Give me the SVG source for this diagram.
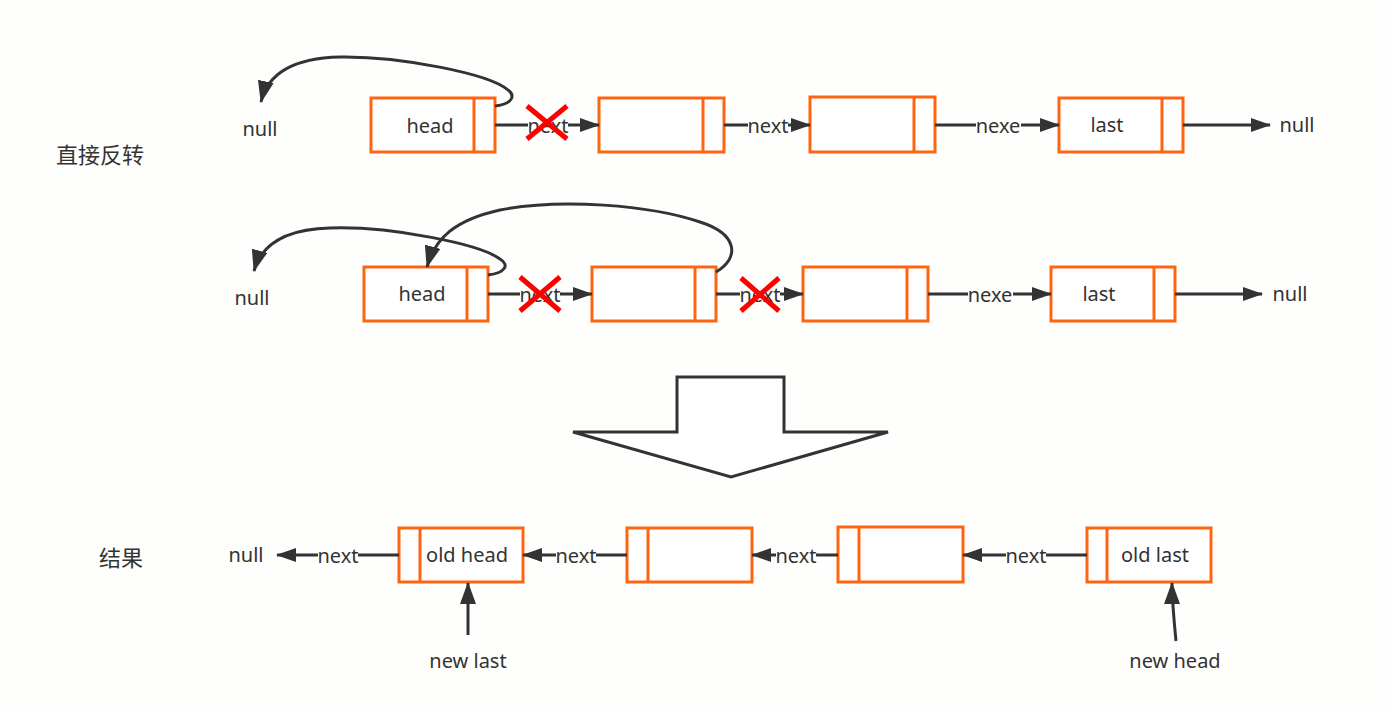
<svg xmlns="http://www.w3.org/2000/svg" width="1388" height="711" viewBox="0 0 1388 711">
<defs>
<style>
.bg{fill:#fefefc}
.box{fill:#ffffff;stroke:#ff6410;stroke-width:3}
.div{stroke:#ff6410;stroke-width:3;fill:none}
.ln{stroke:#333;stroke-width:3;fill:none}
.t{font-family:"Noto Sans","Liberation Sans",sans-serif;font-size:20px;fill:#333;dominant-baseline:central;text-anchor:middle}
.cn{font-family:"Noto Sans CJK SC","Noto Sans",sans-serif;font-size:22px;fill:#333;dominant-baseline:central;text-anchor:middle}
.lb{fill:#fefefc}
.x{stroke:#ff0000;stroke-width:5;fill:none}
</style>
<marker id="ah" viewBox="0 0 20 14" refX="19" refY="7" markerWidth="20" markerHeight="14" markerUnits="userSpaceOnUse" orient="auto">
<path d="M0,0 L20,7 L0,14 Z" fill="#333"/>
</marker>
<marker id="ahc" viewBox="0 0 22 16" refX="21" refY="8" markerWidth="22" markerHeight="16" markerUnits="userSpaceOnUse" orient="auto">
<path d="M0,0 L22,8 L0,16 Z" fill="#333"/>
</marker>
</defs>
<rect class="bg" x="0" y="0" width="1388" height="711"/>

<text class="cn" x="100" y="153">直接反转</text>
<text class="cn" x="121" y="556">结果</text>

<!-- Row 1 -->
<g id="r1-null-left"><text class="t" x="260" y="128">null</text></g>
<g id="r1-head"><rect class="box" x="371" y="98" width="124" height="54"/><line class="div" x1="474" y1="98" x2="474" y2="152"/><text class="t" x="430" y="125">head</text></g>
<g id="r1-n2"><rect class="box" x="599" y="98" width="125" height="54"/><line class="div" x1="703" y1="98" x2="703" y2="152"/></g>
<g id="r1-n3"><rect class="box" x="810" y="97" width="125" height="55"/><line class="div" x1="914" y1="97" x2="914" y2="152"/></g>
<g id="r1-last"><rect class="box" x="1059" y="98" width="124" height="54"/><line class="div" x1="1162" y1="98" x2="1162" y2="152"/><text class="t" x="1107" y="124">last</text></g>
<g id="r1-null-right"><text class="t" x="1297" y="124">null</text></g>

<!-- Row 2 -->
<g id="r2-null-left"><text class="t" x="252" y="297">null</text></g>
<g id="r2-head"><rect class="box" x="364" y="267" width="124" height="54"/><line class="div" x1="467" y1="267" x2="467" y2="321"/><text class="t" x="422" y="293">head</text></g>
<g id="r2-n2"><rect class="box" x="592" y="267" width="124" height="54"/><line class="div" x1="695" y1="267" x2="695" y2="321"/></g>
<g id="r2-n3"><rect class="box" x="803" y="267" width="125" height="54"/><line class="div" x1="907" y1="267" x2="907" y2="321"/></g>
<g id="r2-last"><rect class="box" x="1051" y="267" width="124" height="54"/><line class="div" x1="1154" y1="267" x2="1154" y2="321"/><text class="t" x="1099" y="293">last</text></g>
<g id="r2-null-right"><text class="t" x="1290" y="293">null</text></g>

<!-- Big arrow -->
<g id="big-arrow"><polygon points="677,377 784,377 784,432 888,432 731,477 573,432 677,432" fill="#ffffff" stroke="#333" stroke-width="3" stroke-linejoin="miter"/></g>

<!-- Row 3 -->
<g id="r3-null"><text class="t" x="246" y="554">null</text></g>
<g id="r3-oldhead"><rect class="box" x="399" y="528" width="124" height="54"/><line class="div" x1="420" y1="528" x2="420" y2="582"/><text class="t" x="467" y="554">old head</text></g>
<g id="r3-n2"><rect class="box" x="627" y="528" width="125" height="54"/><line class="div" x1="648" y1="528" x2="648" y2="582"/></g>
<g id="r3-n3"><rect class="box" x="838" y="527" width="125" height="55"/><line class="div" x1="859" y1="527" x2="859" y2="582"/></g>
<g id="r3-oldlast"><rect class="box" x="1087" y="528" width="124" height="54"/><line class="div" x1="1107" y1="528" x2="1107" y2="582"/><text class="t" x="1155" y="554">old last</text></g>
<g id="r3-newlast"><text class="t" x="468" y="660">new last</text></g>
<g id="r3-newhead"><text class="t" x="1175" y="660">new head</text></g>

<g id="connectors">
<!-- row 1 -->
<line class="ln" x1="495" y1="125" x2="599" y2="125" marker-end="url(#ah)"/>
<rect class="lb" x="528" y="113" width="40" height="24"/><text class="t" x="548" y="125">next</text>
<line class="ln" x1="724" y1="125" x2="810" y2="125" marker-end="url(#ah)"/>
<rect class="lb" x="748" y="113" width="40" height="24"/><text class="t" x="768" y="125">next</text>
<line class="ln" x1="935" y1="125" x2="1059" y2="125" marker-end="url(#ah)"/>
<rect class="lb" x="976" y="113" width="45" height="24"/><text class="t" x="998" y="125">nexe</text>
<line class="ln" x1="1183" y1="125" x2="1270" y2="125" marker-end="url(#ah)"/>
<path class="ln" d="M495,106 C512,104 516,96 508,90 C490,74 400,56 340,57 C295,58 268,72 261,102" marker-end="url(#ahc)"/>
<path class="x" d="M527,106 L567,139 M567,106 L527,139"/>

<!-- row 2 -->
<line class="ln" x1="488" y1="294" x2="592" y2="294" marker-end="url(#ah)"/>
<rect class="lb" x="520" y="282" width="40" height="24"/><text class="t" x="540" y="294">next</text>
<line class="ln" x1="716" y1="294" x2="803" y2="294" marker-end="url(#ah)"/>
<rect class="lb" x="740" y="282" width="40" height="24"/><text class="t" x="760" y="294">next</text>
<line class="ln" x1="928" y1="294" x2="1051" y2="294" marker-end="url(#ah)"/>
<rect class="lb" x="968" y="282" width="45" height="24"/><text class="t" x="990" y="294">nexe</text>
<line class="ln" x1="1175" y1="294" x2="1262" y2="294" marker-end="url(#ah)"/>
<path class="ln" d="M488,275 C505,273 510,265 500,259 C480,244 390,226 330,228 C290,229 262,242 254,271" marker-end="url(#ahc)"/>
<path class="ln" d="M716,272 C740,258 738,234 700,222 C650,205 560,198 500,210 C455,220 435,238 427,267" marker-end="url(#ahc)"/>
<path class="x" d="M520,277 L560,311 M560,277 L520,311"/>
<path class="x" d="M741,278 L779,311 M779,278 L741,311"/>

<!-- row 3 -->
<line class="ln" x1="399" y1="555" x2="277" y2="555" marker-end="url(#ah)"/>
<rect class="lb" x="318" y="543" width="40" height="24"/><text class="t" x="338" y="555">next</text>
<line class="ln" x1="627" y1="555" x2="523" y2="555" marker-end="url(#ah)"/>
<rect class="lb" x="556" y="543" width="40" height="24"/><text class="t" x="576" y="555">next</text>
<line class="ln" x1="838" y1="555" x2="752" y2="555" marker-end="url(#ah)"/>
<rect class="lb" x="776" y="543" width="40" height="24"/><text class="t" x="796" y="555">next</text>
<line class="ln" x1="1087" y1="555" x2="963" y2="555" marker-end="url(#ah)"/>
<rect class="lb" x="1006" y="543" width="40" height="24"/><text class="t" x="1026" y="555">next</text>
<line class="ln" x1="468" y1="635" x2="468" y2="583" marker-end="url(#ahc)"/>
<path class="ln" d="M1176,641 C1174,620 1172,600 1172,583" marker-end="url(#ahc)"/>
</g>
</svg>
